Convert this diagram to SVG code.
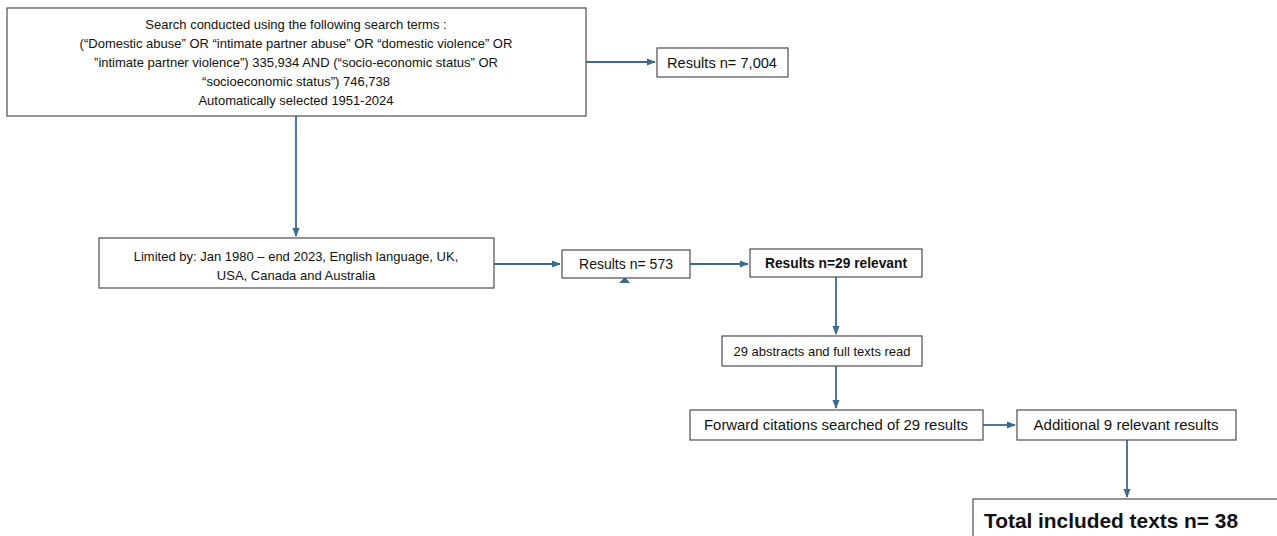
<svg xmlns="http://www.w3.org/2000/svg" width="1277" height="536" viewBox="0 0 1277 536">
  <style>
    .box { fill: #ffffff; stroke: #4d4d4d; stroke-width: 1.2; }
    .t { font-family: "Liberation Sans", Arial, sans-serif; font-size: 13px; fill: #111; text-anchor: middle; }
    .s { font-size: 14px; }
    .b { font-weight: bold; }
    .big { font-family: "Liberation Sans", Arial, sans-serif; font-size: 21px; font-weight: bold; fill: #111; }
    .link { fill: none; stroke: #3b6a8f; stroke-width: 1.8; }
  </style>
  <defs>
    <marker id="arrow" viewBox="0 0 10 10" refX="9" refY="5" markerWidth="5" markerHeight="5" orient="auto">
      <path d="M0,1 L10,5 L0,9 z" fill="#3b6a8f"/>
    </marker>
  </defs>
  <rect width="1277" height="536" fill="#ffffff"/>

  <g id="connectors">
    <path class="link" d="M586,62 L655,62" marker-end="url(#arrow)"/>
    <path class="link" d="M296,116 L296,236" marker-end="url(#arrow)"/>
    <path class="link" d="M494,264 L560,264" marker-end="url(#arrow)"/>
    <path d="M619,283 L625,277 L630,283 z" fill="#3b6a8f"/>
    <path class="link" d="M690,264 L748,264" marker-end="url(#arrow)"/>
    <path class="link" d="M836,277 L836,334" marker-end="url(#arrow)"/>
    <path class="link" d="M836,366 L836,408" marker-end="url(#arrow)"/>
    <path class="link" d="M983,425 L1015,425" marker-end="url(#arrow)"/>
    <path class="link" d="M1127,440 L1127,497" marker-end="url(#arrow)"/>
  </g>

  <g id="search-terms">
    <rect class="box" x="7" y="8" width="579" height="108"/>
    <text class="t" x="296" y="29">Search conducted using the following search terms :</text>
    <text class="t" x="296" y="48">(“Domestic abuse” OR “intimate partner abuse” OR “domestic violence” OR</text>
    <text class="t" x="296" y="67">”intimate partner violence”) 335,934 AND (“socio-economic status” OR</text>
    <text class="t" x="296" y="86">“socioeconomic status”) 746,738</text>
    <text class="t" x="296" y="105">Automatically selected 1951-2024</text>
  </g>

  <g id="results-7004">
    <rect class="box" x="657" y="48" width="131" height="29"/>
    <text class="t s" x="722" y="68" textLength="110" lengthAdjust="spacingAndGlyphs">Results n= 7,004</text>
  </g>

  <g id="limited-by">
    <rect class="box" x="99" y="238" width="395" height="50"/>
    <text class="t" x="296" y="261">Limited by: Jan 1980 – end 2023, English language, UK,</text>
    <text class="t" x="296" y="280">USA, Canada and Australia</text>
  </g>

  <g id="results-573">
    <rect class="box" x="562" y="250" width="128" height="28"/>
    <text class="t s" x="626" y="269" textLength="94" lengthAdjust="spacingAndGlyphs">Results n= 573</text>
  </g>

  <g id="results-29">
    <rect class="box" x="750" y="249" width="172" height="28"/>
    <text class="t s b" x="836" y="268" textLength="142" lengthAdjust="spacingAndGlyphs">Results n=29 relevant</text>
  </g>

  <g id="abstracts-read">
    <rect class="box" x="722" y="336" width="200" height="30"/>
    <text class="t" x="822" y="356">29 abstracts and full texts read</text>
  </g>

  <g id="forward-citations">
    <rect class="box" x="690" y="410" width="293" height="30"/>
    <text class="t s" x="836" y="430" textLength="264" lengthAdjust="spacingAndGlyphs">Forward citations searched of 29 results</text>
  </g>

  <g id="additional-9">
    <rect class="box" x="1017" y="410" width="219" height="30"/>
    <text class="t s" x="1126" y="430" textLength="185" lengthAdjust="spacingAndGlyphs">Additional 9 relevant results</text>
  </g>

  <g id="total-included">
    <rect class="box" x="973" y="499" width="310" height="45"/>
    <text class="big" x="984" y="528" textLength="254" lengthAdjust="spacingAndGlyphs">Total included texts n= 38</text>
  </g>
</svg>
